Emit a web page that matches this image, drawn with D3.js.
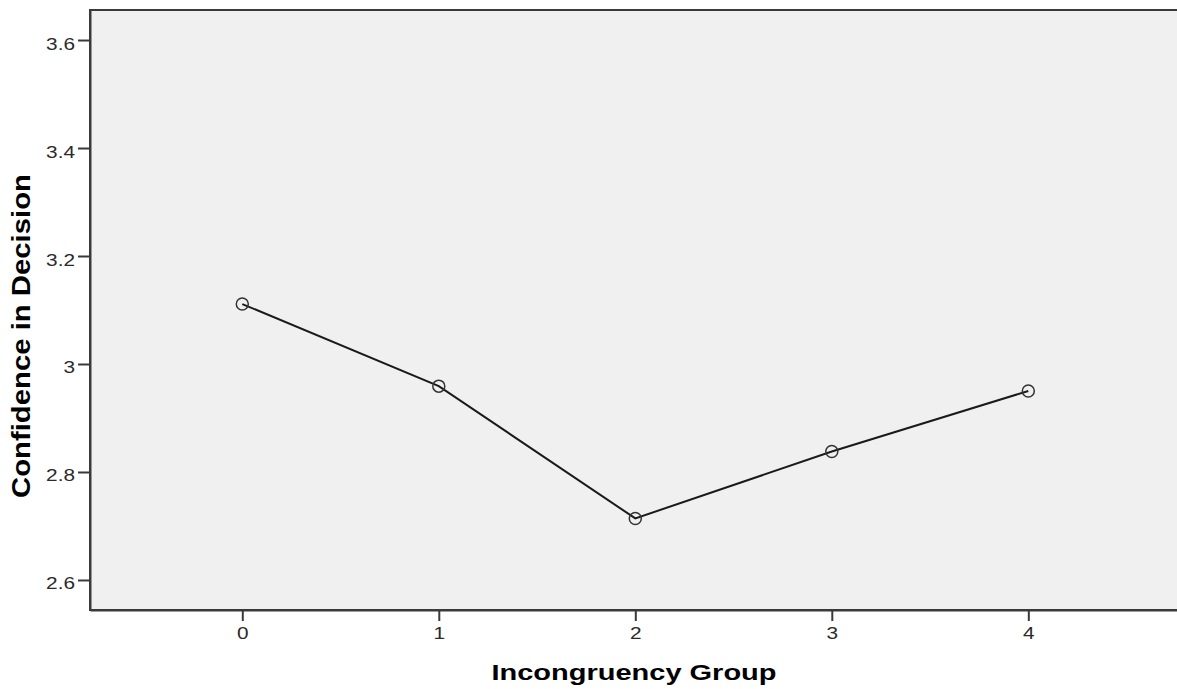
<!DOCTYPE html>
<html>
<head>
<meta charset="utf-8">
<script src="https://cdn.jsdelivr.net/npm/d3@7"></script>
<style>
  html, body { margin: 0; padding: 0; background: #ffffff; }
  svg { display: block; }
</style>
</head>
<body>
<svg id="chart" width="1177" height="689"></svg>
<script>
// ---- data ----
const groups = [0, 1, 2, 3, 4];
const confidence = [3.111, 2.959, 2.714, 2.838, 2.950];
const yTickValues = [2.6, 2.8, 3.0, 3.2, 3.4, 3.6];
const yTickLabels = ["2.6", "2.8", "3", "3.2", "3.4", "3.6"];
const xTickLabels = ["0", "1", "2", "3", "4"];
const xTitle = "Incongruency Group";
const yTitle = "Confidence in Decision";

// ---- layout ----
const svg = d3.select("#chart");
const plotLeft = 90, plotTop = 10, plotBottom = 610, plotRight = 1180.6;
const x = d3.scaleLinear().domain([-0.775, 4.775]).range([plotLeft, plotRight]);
const y = d3.scaleLinear().domain([2.5444, 3.6556]).range([plotBottom, plotTop]);
const font = "'Liberation Sans', Arial, sans-serif";
const sx = 1.3;

// plot background + frame
svg.append("rect")
  .attr("x", plotLeft).attr("y", plotTop)
  .attr("width", plotRight - plotLeft + 10).attr("height", plotBottom - plotTop)
  .attr("fill", "#f0f0f0").attr("stroke", "#3a3a3a").attr("stroke-width", 2);

// y axis
const yAxis = svg.append("g")
  .attr("transform", `translate(${plotLeft},0)`)
  .call(d3.axisLeft(y).tickValues(yTickValues)
    .tickFormat((d, i) => yTickLabels[i]).tickSize(12).tickSizeOuter(0));
yAxis.select(".domain").attr("stroke", "#3a3a3a").attr("stroke-width", 2);
yAxis.selectAll(".tick line").attr("stroke", "#3a3a3a").attr("stroke-width", 2);
yAxis.selectAll(".tick text")
  .attr("x", null).attr("dy", null)
  .attr("transform", `translate(-15,9) scale(${sx},1)`)
  .attr("text-anchor", "end")
  .attr("fill", "#2a2a2a")
  .style("font-family", font).style("font-size", "16px");

// x axis
const xAxis = svg.append("g")
  .attr("transform", `translate(0,${plotBottom})`)
  .call(d3.axisBottom(x).tickValues(groups)
    .tickFormat((d, i) => xTickLabels[i]).tickSize(11).tickSizeOuter(0));
xAxis.select(".domain").attr("stroke", "#3a3a3a").attr("stroke-width", 2);
xAxis.selectAll(".tick line").attr("stroke", "#3a3a3a").attr("stroke-width", 2);
xAxis.selectAll(".tick text")
  .attr("y", null).attr("dy", null)
  .attr("transform", `translate(0,29) scale(${sx},1)`)
  .attr("text-anchor", "middle")
  .attr("fill", "#2a2a2a")
  .style("font-family", font).style("font-size", "16px");

// line
const line = d3.line().x((d, i) => x(groups[i])).y(d => y(d));
svg.append("path")
  .datum(confidence)
  .attr("d", line)
  .attr("fill", "none")
  .attr("stroke", "#1a1a1a")
  .attr("stroke-width", 2);

// markers
svg.append("g").selectAll("circle")
  .data(confidence)
  .join("circle")
  .attr("cx", (d, i) => x(groups[i]))
  .attr("cy", d => y(d))
  .attr("r", 6)
  .attr("fill", "none")
  .attr("stroke", "#333333")
  .attr("stroke-width", 1.5);

// titles
svg.append("text")
  .attr("x", 634).attr("y", 680)
  .attr("text-anchor", "middle")
  .attr("textLength", 285).attr("lengthAdjust", "spacingAndGlyphs")
  .style("font-family", font).style("font-size", "22px").style("font-weight", "bold")
  .attr("fill", "#000")
  .text(xTitle);

svg.append("text")
  .attr("transform", "translate(30,336) rotate(-90)")
  .attr("text-anchor", "middle")
  .attr("textLength", 324).attr("lengthAdjust", "spacingAndGlyphs")
  .style("font-family", font).style("font-size", "25px").style("font-weight", "bold")
  .attr("fill", "#000")
  .text(yTitle);
</script>
</body>
</html>
